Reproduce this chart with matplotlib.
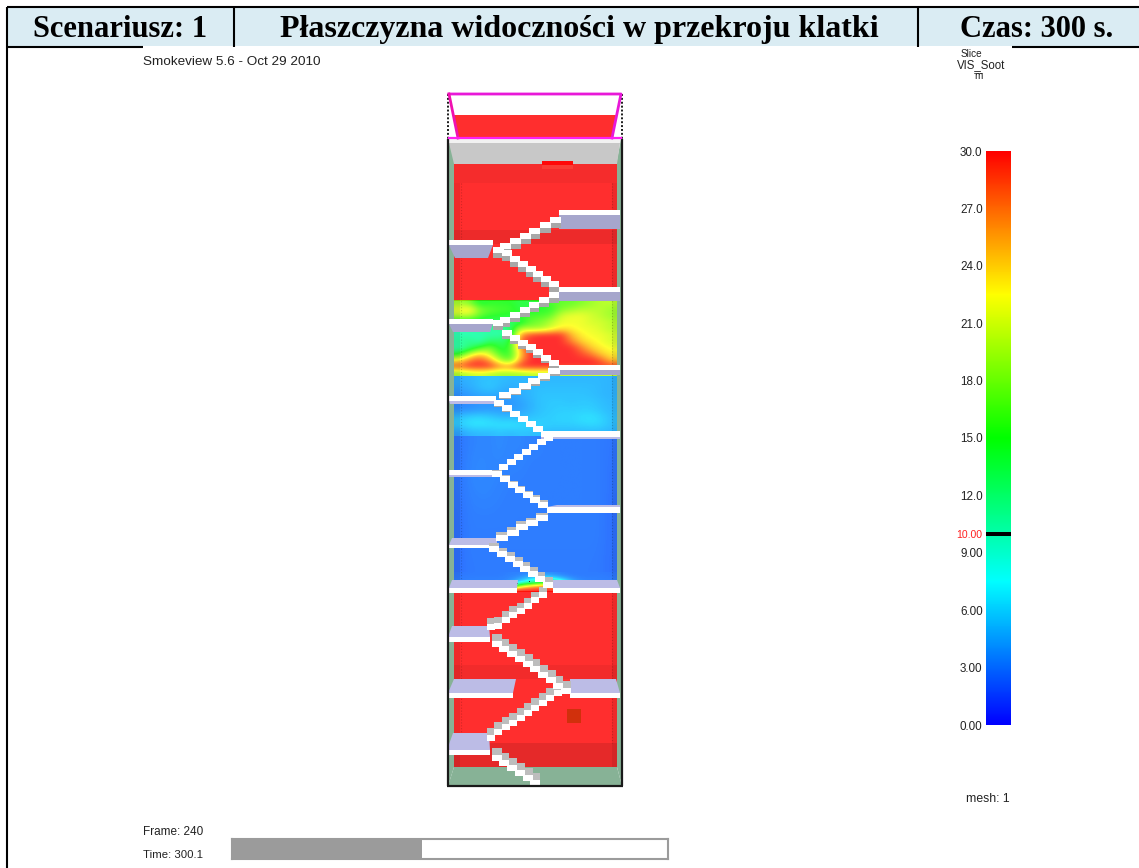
import numpy as np
import matplotlib
matplotlib.use("Agg")
import matplotlib.pyplot as plt
from matplotlib.colors import LinearSegmentedColormap, ListedColormap, Normalize
from matplotlib.patches import Polygon, Rectangle

W, H = 1139, 868

# naglowek tabeli
HEADER_TEXTS = ["Scenariusz: 1", "Płaszczyzna widoczności w przekroju klatki", "Czas: 300 s."]

# skala paska
VIS_MIN, VIS_MAX = 0.0, 30.0
VIS_LIMIT = 10.0
BAR_TICKS = [30.0, 27.0, 24.0, 21.0, 18.0, 15.0, 12.0, 9.0, 6.0, 3.0, 0.0]
BAR_LABELS = ["30.0", "27.0", "24.0", "21.0", "18.0", "15.0", "12.0", "9.00", "6.00", "3.00", "0.00"]

FRAME = 240
TIME_NOW = 300.1
TIME_END = 690.0

# widocznosc [m], kolumny od lewej do prawej
VIS_UPPER = 30.0
VIS_LOWER = 30.0
VIS_SMOKE = [
    [19, 18, 14, 15, 15, 15, 14, 14, 15, 16, 17, 17, 18, 19, 20, 20],
    [22, 24, 18, 17, 16, 16, 14, 14, 15, 15, 18, 19, 20, 20, 20, 19],
    [20, 20, 17, 15, 15, 14, 16, 16, 16, 17, 21, 22, 22, 21, 20, 19],
    [14, 14, 13, 13, 13, 13, 13, 17, 18, 20, 22, 22, 22, 21, 21, 20],
    [10.4, 10.6, 11, 11, 11, 12, 20, 19, 19, 21, 23, 23, 22, 22, 21, 20],
    [10.0, 10.0, 10.1, 10.6, 10.3, 12, 26, 29, 30, 30, 30, 25, 23, 22, 22, 21],
    [11, 12, 10.1, 13, 13, 14, 28, 30, 30, 30, 30, 27, 24, 23, 22, 21],
    [10.0, 12, 15, 18, 14, 15, 26, 30, 30, 30, 30, 30, 27, 24, 23, 22],
    [14, 20, 24, 21, 16, 15, 24, 30, 30, 30, 30, 30, 29, 27, 24, 23],
    [23, 27, 29, 26, 20, 16, 26, 30, 30, 30, 30, 30, 30, 30, 28, 24],
    [28, 30, 30, 30, 27, 27, 30, 30, 30, 30, 30, 30, 30, 30, 30, 30],
    [19, 20, 21, 20, 19, 19, 19, 20, 20, 20, 20, 20, 20, 20, 20, 20],
]
VIS_CYAN = [
    [4.6, 4.8, 5.2, 5.4, 5.2, 5.0, 5.0, 5.0, 5.0, 5.0, 5.0, 5.0, 5.0, 5.0, 5.0, 4.8],
    [4.2, 4.6, 5.2, 5.6, 5.0, 4.6, 4.8, 5.0, 5.2, 5.2, 5.2, 5.2, 5.2, 5.2, 5.0, 4.8],
    [3.6, 4.0, 4.4, 4.6, 4.4, 4.2, 4.6, 5.0, 5.4, 5.4, 5.4, 5.4, 5.4, 5.2, 5.0, 4.8],
    [3.2, 3.4, 3.8, 3.8, 3.6, 3.8, 4.2, 4.8, 5.4, 5.6, 5.6, 5.4, 5.6, 5.6, 5.2, 5.0],
    [3.4, 3.6, 3.8, 4.0, 4.0, 4.0, 4.2, 4.8, 5.4, 5.6, 5.8, 5.8, 5.8, 5.8, 5.4, 5.0],
    [5.4, 6.0, 6.2, 5.8, 5.2, 5.0, 5.0, 5.4, 5.6, 5.8, 6.0, 6.0, 6.4, 6.6, 6.0, 5.2],
    [5.8, 6.6, 6.8, 6.6, 6.6, 6.8, 6.4, 6.2, 6.0, 5.8, 5.8, 5.8, 6.0, 6.2, 6.0, 5.2],
    [4.0, 4.8, 5.0, 5.0, 5.4, 5.0, 5.4, 5.2, 5.2, 5.0, 5.0, 5.0, 5.0, 5.0, 5.0, 4.8],
]
VIS_BLUE = [
    [2.6, 3.0, 3.2, 3.2, 3.4, 3.2, 3.2, 3.0, 3.0, 2.9, 2.9, 2.9, 2.9, 2.9, 2.8, 2.6],
    [2.6, 3.2, 3.4, 3.2, 3.2, 3.0, 3.0, 2.9, 2.9, 2.9, 2.9, 2.9, 2.9, 2.9, 2.8, 2.5],
    [2.6, 3.0, 3.2, 3.2, 3.0, 2.9, 2.9, 2.9, 2.9, 2.9, 2.9, 2.9, 2.9, 2.9, 2.8, 2.5],
    [2.4, 2.9, 2.9, 2.9, 2.9, 2.9, 2.9, 2.9, 2.9, 2.9, 2.9, 2.9, 2.9, 2.9, 2.8, 2.4],
    [2.4, 2.9, 2.9, 2.9, 2.9, 2.9, 2.9, 2.9, 2.9, 2.9, 2.9, 2.9, 2.9, 2.9, 2.8, 2.4],
    [2.4, 2.8, 2.8, 2.8, 2.8, 2.8, 2.8, 2.8, 2.8, 2.8, 2.8, 2.8, 2.8, 2.8, 2.7, 2.4],
]
VIS_FRONT = [
    [2.6, 2.8, 2.8, 2.8, 2.8, 3.0, 3.0, 3.4, 3.6, 3.4, 3.0, 2.8, 2.8, 2.8, 2.8, 2.6],
    [2.8, 3.0, 3.0, 3.0, 3.0, 3.2, 4.0, 5.5, 7.0, 7.0, 5.0, 3.5, 3.0, 3.0, 3.0, 2.8],
    [3.0, 3.0, 3.0, 3.0, 3.0, 3.5, 6.0, 9.5, 13.0, 14.0, 10.5, 5.0, 3.5, 3.0, 3.0, 3.0],
    [3.0, 3.0, 3.0, 3.0, 3.0, 9.0, 20.0, 24.0, 26.0, 26.0, 22.0, 10.5, 3.0, 3.0, 3.0, 3.0],
    [30.0, 30.0, 30.0, 30.0, 30.0, 30.0, 30.0, 30.0, 30.0, 30.0, 30.0, 30.0, 30.0, 30.0, 30.0, 30.0],
]

# spoczniki: x0, x1, biale y0, y1, dalsza krawedz x0, x1, y
LANDINGS = [
    (559, 620, 210, 215, 559, 620, 229),
    (449, 493, 240, 245, 455, 488, 258),
    (559, 620, 287, 292, 559, 620, 301),
    (449, 493, 319, 324, 453, 490, 332),
    (559, 620, 365, 370, 559, 620, 375),
    (449, 496, 396, 401, 450, 495, 404),
    (541, 620, 431, 437, 541, 620, 439),
    (449, 495, 470, 475, 449, 495, 477),
    (547, 620, 507, 513, 557, 620, 505),
    (449, 497, 545, 548, 452, 497, 538),
    (449, 517, 588, 593, 452, 518, 580),
    (553, 620, 588, 593, 553, 617, 580),
    (448, 490, 637, 642, 452, 489, 626),
    (448, 513, 693, 698, 454, 516, 679),
    (570, 620, 693, 698, 570, 616, 679),
    (447, 490, 750, 755, 453, 489, 733),
]

# biegi schodow, srodki stopni
FLIGHTS = [
    [(555, 220), (545, 225), (534, 231), (525, 236), (515, 241), (505, 246), (498, 250)],
    [(507, 253), (515, 259), (523, 264), (531, 269), (538, 274), (546, 279), (554, 284)],
    [(554, 295), (544, 300), (534, 305), (525, 310), (515, 315), (505, 320), (498, 323)],
    [(507, 333), (515, 338), (523, 343), (531, 347), (538, 352), (546, 358), (554, 363)],
    [(554, 371), (544, 376), (534, 381), (525, 386), (515, 391), (505, 395)],
    [(499, 403), (507, 408), (515, 414), (523, 419), (531, 424), (538, 429)],
    [(548, 438), (541, 442), (533, 447), (526, 452), (518, 457), (511, 462), (503, 467)],
    [(497, 474), (505, 479), (513, 485), (520, 490), (528, 495), (535, 500), (543, 505)],
    [(542, 518), (532, 523), (522, 527), (513, 533), (502, 538)],
    [(494, 549), (502, 554), (510, 559), (518, 564), (525, 569), (533, 574), (540, 579), (548, 585)],
    [(543, 595), (535, 600), (528, 606), (521, 611), (513, 615), (506, 620), (498, 626), (491, 627)],
    [(497, 644), (504, 649), (512, 654), (520, 659), (528, 664), (535, 669), (543, 675), (551, 680), (558, 686), (566, 691)],
    [(558, 693), (550, 698), (543, 703), (535, 708), (528, 713), (521, 718), (513, 723), (506, 727), (498, 732), (491, 738)],
    [(497, 758), (504, 763), (512, 768), (520, 773), (528, 778), (535, 783)],
]

HEADER_BG = "#daecf3"
WALL_GREEN = "#87b296"
GREY = "#c8c8c8"
SLICE_ALPHA = 0.82
SMOKE_X = (454, 617)

# kolory smokeview + czarny pasek na 10 m
base = LinearSegmentedColormap.from_list("smv", ["#0000ff", "#00ffff", "#00ff00", "#ffff00", "#ff0000"], N=600)
colors = base(np.linspace(0, 1, 600))
band = np.abs(np.linspace(VIS_MIN, VIS_MAX, 600) - VIS_LIMIT) < 0.11
colors[band] = [0, 0, 0, 1]
cmap = ListedColormap(colors)
norm = Normalize(VIS_MIN, VIS_MAX)

plt.rcParams["font.family"] = ["Liberation Sans", "DejaVu Sans"]
fig = plt.figure(figsize=(W / 100, H / 100), dpi=100, facecolor="white")
ax = fig.add_axes([0, 0, 1, 1])
ax.axis("off")


def rect(x0, y0, x1, y1, **kw):
    ax.add_patch(Rectangle((x0, y0), x1 - x0, y1 - y0, linewidth=0, **kw))


def field(vals, y0, y1, z=2):
    ax.imshow(np.array(vals), cmap=cmap, norm=norm, extent=(SMOKE_X[0], SMOKE_X[1], y1, y0),
              aspect="auto", interpolation="bicubic", alpha=SLICE_ALPHA, zorder=z)


# naglowek
rect(8, 8, W, 46, facecolor=HEADER_BG, zorder=1)
for xs, ys in [([7, W], [7, 7]), ([7, 143], [47, 47]), ([1012, W], [47, 47]),
               ([7, 7], [7, 868]), ([234, 234], [7, 47]), ([918, 918], [7, 47])]:
    ax.plot(xs, ys, color="black", lw=1.5, solid_capstyle="butt", zorder=5)
header = dict(fontweight="bold", family="Liberation Serif", ha="center", va="center")
ax.text(120.5, 29.5, HEADER_TEXTS[0], fontsize=22, **header)
ax.text(579.5, 29.5, HEADER_TEXTS[1], fontsize=23, **header)
ax.text(1037, 29.5, HEADER_TEXTS[2], fontsize=22, **header)

# teksty smokeview
ink = "#222222"
ax.text(143, 62, "Smokeview 5.6 - Oct 29 2010", ha="left", fontsize=9.7, color=ink, va="center")
ax.text(971.5, 54, "Slice", ha="center", fontsize=7.2, color=ink, va="center")
ax.text(981.5, 65, "VIS_Soot", ha="center", fontsize=8.3, color=ink, va="center")
ax.text(978, 76, "m", ha="center", fontsize=7.2, color=ink, va="center")
ax.plot([974, 982], [73, 73], color="#555555", lw=0.6)
ax.text(1010, 799, "mesh: 1", ha="right", fontsize=8.8, color=ink, va="center")
ax.text(143, 832, f"Frame: {FRAME}", ha="left", fontsize=8.5, color=ink, va="center")
ax.text(143, 855, f"Time: {TIME_NOW}", ha="left", fontsize=8.2, color=ink, va="center")

# sciany
red = cmap(norm(VIS_MAX))
rect(454, 165, 617, 767, facecolor="white", zorder=1)
rect(SMOKE_X[0], 163, SMOKE_X[1], 301, facecolor=cmap(norm(VIS_UPPER)), alpha=SLICE_ALPHA, zorder=2)
rect(SMOKE_X[0], 591, SMOKE_X[1], 767, facecolor=cmap(norm(VIS_LOWER)), alpha=SLICE_ALPHA, zorder=2)
field(VIS_SMOKE, 300, 376)
field(VIS_CYAN, 376, 436)
field(VIS_BLUE, 436, 572)
field(VIS_FRONT, 572, 592)

# ciemniejsze pasy tylnej sciany
for y0, y1, a in [(163, 183, 0.04), (230, 244, 0.07), (665, 679, 0.05), (743, 767, 0.1)]:
    rect(454, y0, 617, y1, facecolor="black", alpha=a, zorder=3)
for x0, x1 in [(454, 460), (612, 617)]:
    rect(x0, 183, x1, 767, facecolor="black", alpha=0.07, zorder=3)
for x in [460.5, 612]:
    ax.plot([x, x], [183, 743], color="black", lw=0.8, ls=":", alpha=0.18, zorder=3)
rect(567, 709, 581, 723, facecolor="#d1300c", zorder=3)
rect(542, 165, 573, 169, facecolor="#fa3c34", zorder=3)
rect(542, 161, 573, 165, facecolor="#ff0808", zorder=6)

# zielone sciany i podloga
ax.add_patch(Polygon([(449, 139), (454, 160), (454, 767), (448, 786)], facecolor=WALL_GREEN, lw=0, zorder=4))
ax.add_patch(Polygon([(621, 139), (617, 160), (617, 767), (622, 786)], facecolor=WALL_GREEN, lw=0, zorder=4))
ax.add_patch(Polygon([(454, 767), (617, 767), (622, 786), (448, 786)], facecolor=WALL_GREEN, lw=0, zorder=4))

# sufit
ax.add_patch(Polygon([(449, 143), (620, 143), (617, 164), (454, 164)], facecolor=GREY, lw=0, zorder=4))
rect(449, 139, 620, 143, facecolor="#f2f2f2", zorder=4)

# gorna kratka z magenta
ax.add_patch(Polygon([(454, 115), (616, 115), (613, 138), (458, 138)], facecolor=red, alpha=SLICE_ALPHA, lw=0, zorder=2))
ax.plot([449, 621, 612], [94, 94, 138], color="#e818d8", lw=2.0, zorder=11)
ax.plot([449, 458], [94, 138], color="#f010b0", lw=2.0, zorder=11)
ax.plot([449, 621], [138, 138], color="#ff20f0", lw=1.6, zorder=11)

# spoczniki
for x0, x1, yw0, yw1, fx0, fx1, fy in LANDINGS:
    edge = yw1 if fy > yw1 else yw0
    lav = "#a6a6cc" if edge < 400 else "#bcbce6"
    ax.add_patch(Polygon([(x0, edge), (x1, edge), (fx1, fy), (fx0, fy)], facecolor=lav, lw=0, zorder=5))
    rect(x0, yw0, x1, yw1, facecolor="white", zorder=7)

# stopnie
for flight in FLIGHTS:
    xs = [p[0] for p in flight]
    dx = abs(np.diff(xs)).mean()
    w = dx + 1.5
    for x, y in flight:
        g = np.clip((440 - y) * 0.035, -7.5, 5.5)
        if g > 0:
            rect(x - w / 2, y + 2, x + w / 2, y + 2.5 + g, facecolor="#a8a8a8", zorder=8)
        else:
            rect(x - w / 2, y - 2.5 + g, x + w / 2, y - 2, facecolor="#bdbdbd", zorder=8)
    for x, y in flight:
        rect(x - w / 2, y - 2.6, x + w / 2, y + 2.6, facecolor="white", zorder=9)

# obrys
for xs, ys in [([448, 448], [139, 786]), ([622, 622], [139, 786]), ([447, 623], [786, 786])]:
    ax.plot(xs, ys, color="#1a1a1a", lw=1.6, solid_capstyle="butt", zorder=10)
for x in [448, 622]:
    ax.plot([x, x], [94, 139], color="#1a1a1a", lw=1.4, ls=(0, (1, 1)), zorder=10)

ax.set_xlim(0, W)
ax.set_ylim(H, 0)

# pasek kolorow
cb = fig.add_axes([986 / W, 1 - 725 / H, 24 / W, 574 / H])
cb.imshow(np.linspace(VIS_MAX, VIS_MIN, 1200)[:, None], cmap=cmap, norm=norm, aspect="auto",
          extent=(0, 1, VIS_MIN, VIS_MAX), interpolation="nearest")
for s in cb.spines.values():
    s.set_visible(False)
cb.set_xticks([])
cb.set_yticks(BAR_TICKS + [VIS_LIMIT], BAR_LABELS + ["10.00"], fontsize=8.4, color=ink)
cb.tick_params(axis="y", length=0, pad=2.5)
cb.get_yticklabels()[-1].set_color("#ff2020")
cb.get_yticklabels()[-1].set_fontsize(7.6)

# pasek czasu
tb = fig.add_axes([232 / W, 1 - 859 / H, 436 / W, 20 / H])
tb.set_xlim(0, TIME_END)
tb.set_ylim(0, 1)
tb.barh(0.5, TIME_NOW, height=1, left=0, color="#9b9b9b")
tb.set_xticks([])
tb.set_yticks([])
for s in tb.spines.values():
    s.set_color("#9b9b9b")
    s.set_linewidth(1.5)

fig.savefig("out.png", dpi=100)
